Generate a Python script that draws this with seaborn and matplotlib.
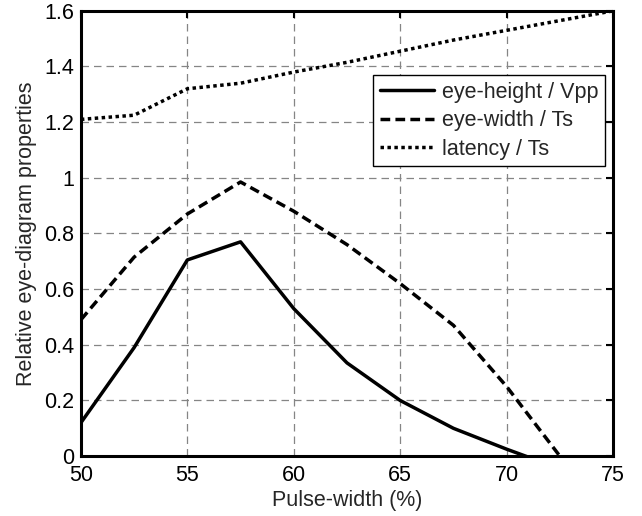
import numpy as np
import pandas as pd
import matplotlib
matplotlib.use("Agg")
import matplotlib.pyplot as plt
import seaborn as sns

pulse_width = [50, 52.5, 55, 57.5, 60, 62.5, 65, 67.5, 70, 72.5, 75]
eye_height = [0.12, 0.39, 0.705, 0.77, 0.53, 0.335, 0.20, 0.10, 0.025, -0.045, np.nan]
eye_width = [0.49, 0.715, 0.87, 0.985, 0.88, 0.76, 0.62, 0.47, 0.25, 0.0, np.nan]
latency = [1.21, 1.225, 1.32, 1.34, 1.38, 1.415, 1.455, 1.495, 1.53, 1.565, 1.60]
labels = ["eye-height / Vpp", "eye-width / Ts", "latency / Ts"]
xticks = [50, 55, 60, 65, 70, 75]
yticks = [0, 0.2, 0.4, 0.6, 0.8, 1.0, 1.2, 1.4, 1.6]
yticklabels = ["0", "0.2", "0.4", "0.6", "0.8", "1", "1.2", "1.4", "1.6"]

sns.set_style("white")
plt.rcParams["font.family"] = ["Liberation Sans", "DejaVu Sans"]
FS = 15.5

fig = plt.figure(figsize=(6.42, 5.16), dpi=100)
ax = fig.add_axes([0.126, 0.116, 0.829, 0.863])

df = pd.DataFrame({"x": pulse_width, labels[0]: eye_height,
                   labels[1]: eye_width, labels[2]: latency})
styles = [dict(linestyle="-"), dict(linestyle=(0, (2.8, 1.5))), dict(linestyle=(0, (1, 1)))]
for lab, st in zip(labels, styles):
    sns.lineplot(data=df, x="x", y=lab, ax=ax, color="black", linewidth=2.5,
                 label=lab, **st)

ax.set_xlim(50, 75)
ax.set_ylim(0, 1.6)
ax.set_xticks(xticks)
ax.set_yticks(yticks)
ax.set_yticklabels(yticklabels)
ax.grid(True, color="#858585", linestyle=(0, (6, 4)), linewidth=0.9)
ax.set_axisbelow(True)
for s in ax.spines.values():
    s.set_visible(True)
    s.set_color("black")
    s.set_linewidth(2.2)
ax.tick_params(direction="in", length=5, width=1.5, top=True, right=True,
               labelsize=FS, colors="black", pad=5)
ax.tick_params(axis="x", pad=6.5)
ax.set_xlabel("Pulse-width (%)", fontsize=FS, labelpad=3)
ax.set_ylabel("Relative eye-diagram properties", fontsize=FS, labelpad=5)

leg = ax.legend(loc="upper right", bbox_to_anchor=(0.985, 0.855), fontsize=FS,
                frameon=True, fancybox=False, edgecolor="black", framealpha=1,
                handlelength=2.5, handletextpad=0.4, borderpad=0.3, labelspacing=0.35,
                borderaxespad=0)
leg.get_frame().set_linewidth(1.0)

fig.savefig("out.png", dpi=100, facecolor="white")
